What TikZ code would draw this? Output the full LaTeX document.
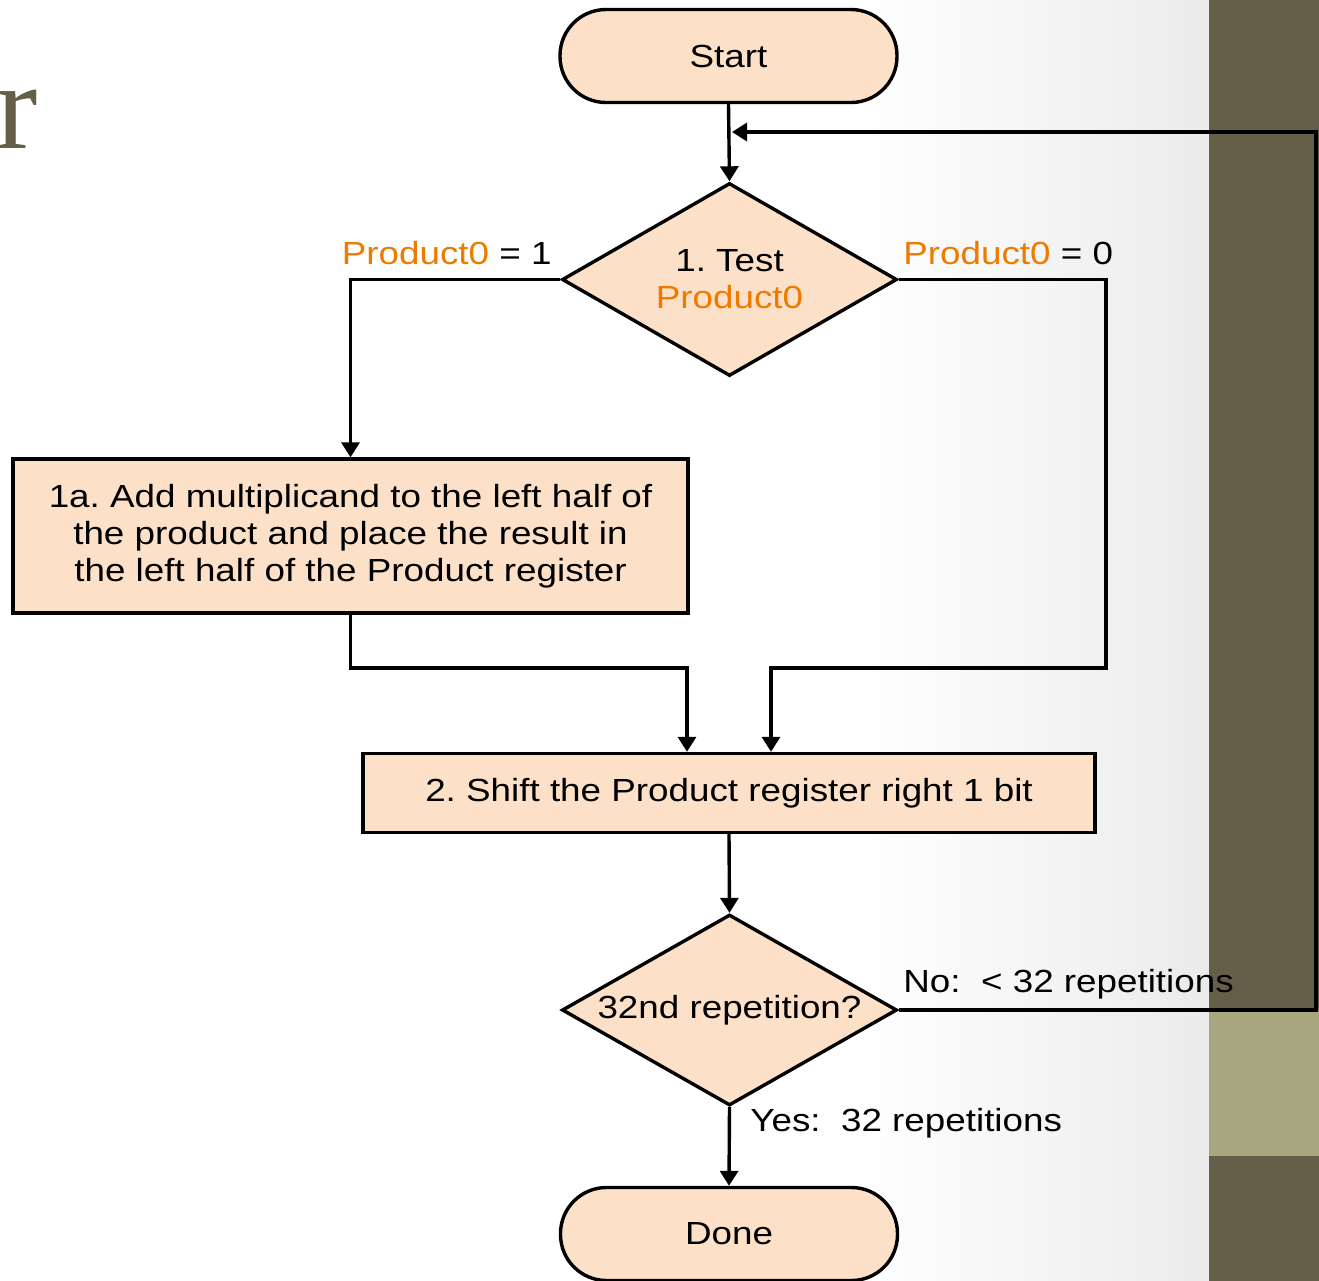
\documentclass[tikz,border=0pt]{standalone}
\usepackage{fontspec}
\setmainfont{Liberation Sans}
\newfontfamily\widesans[FakeStretch=1.15]{Liberation Sans}
\newfontfamily\titleserif{Liberation Serif}
\usetikzlibrary{shapes.geometric,arrows.meta,calc}
\definecolor{peach}{HTML}{FCE1C8}
\definecolor{orng}{HTML}{EE7A00}
\definecolor{olive}{HTML}{655E48}
\definecolor{lolive}{HTML}{A8A67E}
\definecolor{bgg}{HTML}{EBEBEB}
\frenchspacing
\tikzset{
  base/.style={draw=black, line width=1.7pt, fill=peach, font=\widesans\fontsize{16}{18.5}\selectfont, inner sep=0pt, align=center},
  term/.style={base, rounded corners=23pt, minimum width=168.5pt, minimum height=46.5pt},
  proc/.style={base, rectangle},
  dec/.style={base, diamond, aspect=1.74},
  conn/.style={line width=1.7pt, -{Triangle[length=7.5pt,width=9pt]}},
  lbl/.style={font=\widesans\fontsize{16}{18.5}\selectfont, inner sep=0pt}
}
\begin{document}
\begin{tikzpicture}[x=0.5pt,y=-0.5pt]
\useasboundingbox (0,0) rectangle (1319,1281);
\fill[white] (0,0) rectangle (1209,1281);
\shade[left color=white, right color=bgg] (860,0) rectangle (1209,1281);
\fill[olive] (1209,0) rectangle (1319,1010);
\fill[lolive] (1209,1010) rectangle (1319,1156);
\fill[olive] (1209,1156) rectangle (1319,1281);
\node[anchor=base east, text=olive, inner sep=0pt, font=\titleserif\fontsize{62}{64}\selectfont] (title) at (38,148) {r};

\node[term] (start) at (728.5,56) {Start};
\node[dec, minimum width=167.5pt, minimum height=96.5pt] (d1) at (729.5,279.5) {1. Test\\\textcolor{orng}{Product0}};
\node[proc, minimum width=337.5pt, minimum height=77pt] (b1) at (350.5,536) {1a. Add multiplicand to the left half of\\the product and place the result in\\the left half of the Product register};
\node[proc, minimum width=366pt, minimum height=39.5pt] (b2) at (729,793) {2. Shift the Product register right 1 bit};
\node[dec, minimum width=167.5pt, minimum height=95.5pt] (d2) at (729.5,1010) {32nd repetition?};
\node[term] (done) at (729,1234) {Done};

\coordinate (J1) at (687,668);
\coordinate (J2) at (771,668);
\coordinate (R1) at (1106,668);
\coordinate (F1) at (1316,1010);
\coordinate (F2) at (1316,132);
\coordinate (F3) at (732,132);

\draw[conn] (start.south) -- (d1.north);
\draw[conn] (d1.west) -| (b1.north);
\draw[conn] (b1.south) |- (J1) -- (J1 |- b2.north);
\draw[conn] (d1.east) -| (R1) -- (J2) -- (J2 |- b2.north);
\draw[conn] (b2.south) -- (d2.north);
\draw[conn] (d2.east) -- (F1) -- (F2) -- (F3);
\draw[conn] (d2.south) -- (done.north);

\node[lbl, anchor=east] (l1) at (552,253) {\textcolor{orng}{Product0} = 1};
\node[lbl, anchor=west] (l0) at (903,253) {\textcolor{orng}{Product0} = 0};
\node[lbl, anchor=west] (lno) at (903,984) {No:\ \ < 32 repetitions};
\node[lbl, anchor=west] (lyes) at (750,1123) {Yes:\ \ 32 repetitions};
\end{tikzpicture}
\end{document}
